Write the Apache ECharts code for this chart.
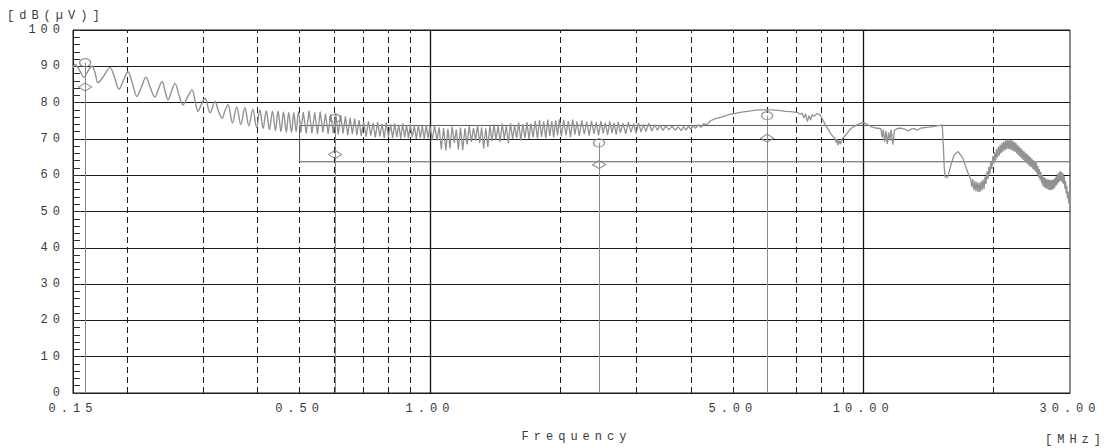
<!DOCTYPE html>
<html>
<head>
<meta charset="utf-8">
<script src="https://cdn.jsdelivr.net/npm/echarts@6.0.0/dist/echarts.min.js"></script>
<style>
  html, body { margin: 0; padding: 0; background: #fff; }
  #chart { width: 1116px; height: 448px; }
  /* plotter-style wide lettering */
  #chart text { letter-spacing: 5px; }
</style>
</head>
<body>
<div id="chart"></div>
<script>
// Conducted emission scan, 150 kHz - 30 MHz, level in dB(uV)

// axis labels and frequency grid (MHz)
const freqLabels = [0.15, 0.5, 1, 5, 10, 30];
const dashedGrid = [0.2, 0.3, 0.4, 0.5, 0.6, 0.7, 0.8, 0.9, 2, 3, 4, 5, 6, 7, 8, 9, 20];
const solidGrid = [1, 10];

// limit line (MHz, dBuV), stepping in at 0.5 MHz
const limitLine = [[30, 73.7], [0.5, 73.7], [0.5, 63.7], [30, 63.7]];

// final measurement markers
const markerFreq = [0.16, 0.604, 2.456, 6.0];
const quasiPeak = [91.0, 75.7, 68.9, 76.4];
const average = [84.3, 65.7, 62.9, 70.2];

// low-frequency ringing of the scan, 0.15 - 0.5 MHz
const ringing = [
  [0.1500, 89.6], [0.1516, 90.5], [0.1553, 88.9], [0.1590, 87.0], [0.1625, 88.7], [0.1659, 90.1],
  [0.1686, 88.3], [0.1713, 85.5], [0.1770, 87.5], [0.1826, 89.7], [0.1870, 87.0], [0.1915, 83.7],
  [0.1962, 86.2], [0.2009, 88.5], [0.2058, 85.2], [0.2107, 81.7], [0.2158, 84.3], [0.2210, 87.0],
  [0.2264, 84.0], [0.2319, 81.5], [0.2363, 83.8], [0.2407, 85.8], [0.2446, 83.2], [0.2485, 80.8],
  [0.2532, 83.1], [0.2579, 85.3], [0.2635, 82.0], [0.2692, 79.4], [0.2758, 81.6], [0.2824, 83.5],
  [0.2870, 80.4], [0.2915, 77.6], [0.2970, 79.6], [0.3026, 81.2], [0.3107, 77.2], [0.3191, 80.3],
  [0.3250, 77.6], [0.3312, 75.7], [0.3365, 77.8], [0.3420, 79.4], [0.3500, 74.4], [0.3580, 78.8],
  [0.3660, 74.0], [0.3740, 78.6], [0.3820, 73.6], [0.3900, 78.2], [0.3980, 73.2], [0.4050, 78.0],
  [0.4120, 72.9], [0.4190, 77.8], [0.4260, 72.6], [0.4330, 77.6], [0.4400, 72.3], [0.4460, 77.7],
  [0.4530, 72.0], [0.4590, 77.4], [0.4660, 71.8], [0.4720, 77.3], [0.4790, 71.8], [0.4850, 77.2],
  [0.4910, 72.0], [0.4970, 77.5], [0.5030, 71.8]
];

// scan above 0.5 MHz
const spectrum = [
  [0.503, 71.8], [0.510, 77.4], [0.518, 71.5], [0.526, 77.8], [0.534, 71.6], [0.542, 77.3],
  [0.550, 71.3], [0.558, 77.5], [0.566, 71.8], [0.574, 77.0], [0.582, 71.4], [0.590, 76.8],
  [0.598, 71.6], [0.606, 77.1], [0.614, 71.2], [0.622, 76.5], [0.630, 71.5], [0.638, 76.2],
  [0.646, 71.0], [0.654, 75.8], [0.662, 71.3], [0.670, 75.6], [0.678, 71.0], [0.686, 75.2],
  [0.694, 70.8], [0.703, 74.8], [0.712, 70.6], [0.721, 74.9], [0.730, 70.9], [0.739, 74.4],
  [0.748, 70.4], [0.757, 74.6], [0.766, 70.7], [0.775, 74.2], [0.784, 70.3], [0.793, 74.5],
  [0.802, 70.6], [0.811, 74.0], [0.820, 70.2], [0.829, 74.3], [0.838, 70.5], [0.847, 73.9],
  [0.856, 70.1], [0.865, 74.2], [0.874, 70.4], [0.883, 73.8], [0.892, 70.2], [0.901, 74.0],
  [0.910, 70.5], [0.920, 73.6], [0.930, 70.0], [0.940, 73.9], [0.950, 70.3], [0.960, 73.5],
  [0.970, 69.9], [0.980, 73.8], [0.990, 70.2], [1.000, 73.4],
  [1.012, 69.8], [1.025, 73.6], [1.038, 69.5], [1.050, 73.2], [1.062, 67.2], [1.075, 73.0],
  [1.088, 66.8], [1.100, 72.8], [1.112, 67.4], [1.125, 73.4], [1.138, 68.9], [1.150, 72.6],
  [1.163, 67.0], [1.176, 73.1], [1.190, 66.9], [1.204, 72.9], [1.218, 68.5], [1.232, 73.5],
  [1.246, 69.2], [1.260, 73.0], [1.274, 69.6], [1.288, 73.8], [1.302, 68.8], [1.316, 73.2],
  [1.330, 67.4], [1.345, 72.9], [1.360, 67.8], [1.375, 73.6], [1.390, 69.4], [1.405, 74.0],
  [1.420, 69.8], [1.436, 73.5], [1.452, 69.2], [1.468, 74.2], [1.484, 70.0], [1.500, 73.6],
  [1.517, 68.8], [1.534, 74.3], [1.551, 69.9], [1.568, 73.8], [1.585, 70.2], [1.602, 74.5],
  [1.620, 69.6], [1.638, 74.0], [1.656, 70.3], [1.674, 74.6], [1.692, 70.0], [1.710, 74.2],
  [1.730, 70.4], [1.750, 75.0], [1.770, 70.1], [1.790, 75.2], [1.810, 70.6], [1.830, 74.8],
  [1.850, 70.2], [1.870, 75.3], [1.890, 70.8], [1.910, 74.9], [1.930, 70.4], [1.950, 75.1],
  [1.970, 71.0], [1.990, 75.4],
  [2.010, 70.7], [2.035, 75.2], [2.060, 71.0], [2.085, 74.9], [2.110, 70.5], [2.135, 75.3],
  [2.160, 71.2], [2.185, 74.8], [2.210, 70.8], [2.240, 75.1], [2.270, 71.3], [2.300, 74.7],
  [2.330, 70.9], [2.360, 75.0], [2.390, 71.4], [2.420, 74.6], [2.450, 71.0], [2.480, 74.9],
  [2.510, 71.5], [2.540, 74.5], [2.570, 71.1], [2.600, 74.8], [2.630, 71.6], [2.660, 74.4],
  [2.690, 71.2], [2.720, 74.7], [2.750, 71.7], [2.790, 74.3], [2.830, 71.4], [2.870, 74.6],
  [2.910, 71.8], [2.950, 74.2], [2.990, 71.5], [3.030, 74.4], [3.070, 71.9], [3.110, 74.0],
  [3.150, 72.0], [3.200, 74.3], [3.250, 72.2], [3.300, 73.9], [3.350, 72.4], [3.400, 73.8],
  [3.450, 72.3], [3.500, 73.6], [3.560, 72.5], [3.620, 73.5], [3.680, 72.4], [3.740, 73.3],
  [3.800, 72.3], [3.850, 73.4], [3.900, 72.4], [3.950, 73.5], [4.000, 72.6], [4.050, 73.7],
  [4.100, 72.9], [4.160, 73.9], [4.220, 73.2], [4.280, 74.2], [4.340, 73.8], [4.440, 75.0],
  [4.560, 75.6], [4.700, 76.0], [4.820, 76.4], [4.940, 76.8],
  [5.070, 77.0], [5.200, 77.3], [5.350, 77.5], [5.500, 77.7], [5.650, 77.9], [5.800, 78.0],
  [5.950, 78.0], [6.100, 78.0], [6.270, 77.9], [6.450, 77.8], [6.620, 77.6], [6.800, 77.5],
  [6.950, 77.4], [7.060, 77.3], [7.150, 76.8], [7.220, 77.1], [7.300, 75.8], [7.360, 76.9],
  [7.430, 74.8], [7.500, 76.4], [7.560, 75.2], [7.620, 76.7], [7.700, 76.2], [7.820, 77.0],
  [7.950, 76.6], [8.070, 75.2], [8.200, 73.6], [8.320, 72.4], [8.420, 71.4], [8.520, 70.6],
  [8.600, 70.3], [8.660, 69.0], [8.700, 70.0], [8.750, 68.2], [8.800, 69.6], [8.860, 68.6],
  [8.930, 70.0], [9.000, 70.4], [9.100, 71.0], [9.250, 72.1], [9.400, 73.0], [9.640, 73.8],
  [9.870, 74.3], [10.03, 74.5], [10.20, 74.0], [10.41, 73.4], [10.70, 73.0], [10.98, 72.8],
  [11.06, 70.4], [11.12, 72.6], [11.20, 69.2], [11.28, 72.2], [11.36, 68.6], [11.44, 71.8],
  [11.52, 69.6], [11.60, 72.6], [11.70, 68.4], [11.80, 72.4], [11.95, 72.8], [12.22, 73.0],
  [12.50, 72.6], [12.70, 72.2], [12.88, 72.7], [13.10, 72.9], [13.30, 72.4], [13.60, 73.0],
  [14.00, 73.2], [14.33, 73.3], [14.70, 73.5], [15.00, 73.7], [15.15, 73.8], [15.22, 73.4],
  [15.30, 68.5], [15.38, 62.0], [15.45, 59.6], [15.58, 59.3], [15.70, 59.8], [15.94, 63.0],
  [16.22, 65.6], [16.56, 66.5], [16.96, 64.8], [17.42, 60.8], [17.70, 58.9],
  [17.8, 56.8], [17.9, 58.9], [18.0, 55.9], [18.1, 58.3], [18.2, 55.6], [18.3, 58.2],
  [18.4, 55.3], [18.5, 57.9], [18.6, 55.4], [18.7, 58.3], [18.8, 55.8], [18.9, 58.8],
  [19.0, 56.2], [19.1, 59.6], [19.2, 57.6], [19.3, 61.0], [19.4, 58.9], [19.5, 62.3],
  [19.6, 60.3], [19.7, 63.8], [19.8, 61.7], [19.9, 65.2], [20.0, 63.2], [20.1, 66.3],
  [20.2, 64.0], [20.3, 67.1], [20.4, 64.8], [20.5, 67.8], [20.6, 65.4], [20.7, 68.4],
  [20.8, 66.0], [20.9, 68.9], [21.0, 66.5], [21.1, 69.3], [21.2, 66.8], [21.3, 69.6],
  [21.4, 67.1], [21.5, 69.8], [21.6, 67.2], [21.7, 69.8], [21.8, 67.1], [21.9, 69.7],
  [22.0, 66.9], [22.1, 69.5], [22.2, 66.7], [22.3, 69.2], [22.4, 66.4], [22.5, 68.9],
  [22.6, 66.0], [22.7, 68.4], [22.8, 65.5], [22.9, 67.9], [23.0, 65.0], [23.1, 67.5],
  [23.2, 64.6], [23.3, 67.0], [23.4, 64.2], [23.5, 66.6], [23.6, 63.8], [23.7, 66.2],
  [23.8, 63.3], [23.9, 65.8], [24.0, 62.9], [24.1, 65.4], [24.2, 62.5], [24.3, 65.0],
  [24.4, 62.2], [24.5, 64.6], [24.6, 61.8], [24.7, 64.2], [24.8, 61.4], [24.9, 63.9],
  [25.0, 61.0], [25.1, 63.4], [25.2, 60.2], [25.3, 62.5], [25.4, 59.4], [25.5, 61.7],
  [25.6, 58.6], [25.7, 60.9], [25.8, 57.8], [25.9, 60.0], [26.0, 57.0], [26.1, 59.5],
  [26.2, 56.6], [26.3, 59.2], [26.4, 56.4], [26.5, 58.9], [26.6, 56.2], [26.7, 58.8],
  [26.8, 56.0], [26.9, 58.7], [27.0, 55.9], [27.1, 58.6], [27.2, 56.0], [27.3, 58.7],
  [27.4, 56.1], [27.5, 58.8], [27.6, 56.4], [27.7, 59.3], [27.8, 56.9], [27.9, 59.8],
  [28.0, 57.4], [28.1, 60.3], [28.2, 57.9], [28.3, 60.8], [28.4, 58.3], [28.5, 61.2],
  [28.6, 58.5], [28.7, 60.9], [28.8, 58.0], [28.9, 60.5], [29.0, 57.6], [29.1, 59.6],
  [29.2, 56.3], [29.3, 58.3], [29.4, 55.0], [29.5, 57.0], [29.6, 53.7], [29.7, 55.5],
  [29.8, 52.2], [29.9, 53.9], [30.0, 50.8]
];

const FONT = '"Liberation Mono", "DejaVu Sans Mono", monospace';
const TEXT_COLOR = '#3a3a3a';
const TRACE_COLOR = '#929292';

const chart = echarts.init(document.getElementById('chart'), null, {
  renderer: 'svg', width: 1116, height: 448
});

const gridMarks = dashedGrid.map(f => ({
  xAxis: f, lineStyle: { type: [6, 4], color: '#1a1a1a', width: 1 }
})).concat(solidGrid.map(f => ({
  xAxis: f, lineStyle: { type: 'solid', color: '#111', width: 1.3 }
})));

const markerDrops = markerFreq.map((f, i) => [
  { coord: [f, quasiPeak[i]] }, { coord: [f, 0] }
]);

const labelText = { fontFamily: FONT, fontSize: 12, fontWeight: 'normal', color: TEXT_COLOR };

chart.setOption({
  animation: false,
  backgroundColor: '#fff',
  title: [
    { text: '[dB(µV)]', left: 7, top: 10, padding: 0, textStyle: labelText },
    { text: '[MHz]', left: 1045, top: 434, padding: 0, textStyle: labelText }
  ],
  grid: {
    left: 73, right: 46, top: 30, bottom: 54,
    show: true, borderColor: '#1a1a1a', borderWidth: 1, backgroundColor: 'transparent'
  },
  xAxis: {
    type: 'log', logBase: 10, min: 0.15, max: 30,
    name: 'Frequency', nameLocation: 'middle', nameGap: 38,
    nameTextStyle: { fontFamily: FONT, fontSize: 12, color: TEXT_COLOR, padding: [0, 0, 0, 10] },
    axisLine: { show: true, lineStyle: { color: '#1a1a1a', width: 1 } },
    axisTick: { show: false },
    minorTick: { show: false },
    splitLine: { show: false },
    axisLabel: {
      customValues: freqLabels,
      formatter: v => Number(v).toFixed(2),
      fontFamily: FONT, fontSize: 12, color: TEXT_COLOR, margin: 10,
      showMinLabel: true, showMaxLabel: true
    }
  },
  yAxis: {
    type: 'value', min: 0, max: 100, interval: 10,
    axisLine: { show: true, lineStyle: { color: '#1a1a1a', width: 1 } },
    axisTick: { show: true, inside: true, length: 8, lineStyle: { color: '#333' } },
    minorTick: { show: true, splitNumber: 5, length: 7, lineStyle: { color: '#333', width: 1 } },
    splitLine: { show: true, lineStyle: { color: '#1a1a1a', width: 1 } },
    axisLabel: { fontFamily: FONT, fontSize: 12, color: TEXT_COLOR, margin: 8 }
  },
  series: [
    {
      name: 'limit', type: 'line', data: limitLine, z: 2,
      showSymbol: false, symbol: 'none', silent: true,
      lineStyle: { color: '#5a5a5a', width: 1 },
      markLine: { silent: true, symbol: ['none', 'none'], label: { show: false }, z: 1, data: gridMarks }
    },
    {
      name: 'scan low', type: 'line', data: ringing, z: 3, smooth: 0.35,
      showSymbol: false, symbol: 'none', silent: true,
      lineStyle: { color: TRACE_COLOR, width: 1.4 }
    },
    {
      name: 'scan', type: 'line', data: spectrum, z: 3,
      showSymbol: false, symbol: 'none', silent: true,
      lineStyle: { color: TRACE_COLOR, width: 1.3 }
    },
    {
      name: 'QP', type: 'scatter', z: 4, silent: true,
      data: markerFreq.map((f, i) => [f, quasiPeak[i]]),
      symbol: 'circle', symbolSize: [11, 8],
      itemStyle: { color: 'rgba(0,0,0,0)', borderColor: '#7a7a7a', borderWidth: 1.2 },
      markLine: {
        silent: true, symbol: ['none', 'none'], label: { show: false },
        lineStyle: { type: 'solid', color: '#8a8a8a', width: 1 },
        data: markerDrops
      }
    },
    {
      name: 'AV', type: 'scatter', z: 4, silent: true,
      data: markerFreq.map((f, i) => [f, average[i]]),
      symbol: 'diamond', symbolSize: [13, 8],
      itemStyle: { color: 'rgba(0,0,0,0)', borderColor: '#7a7a7a', borderWidth: 1.2 }
    }
  ]
});
</script>
</body>
</html>
